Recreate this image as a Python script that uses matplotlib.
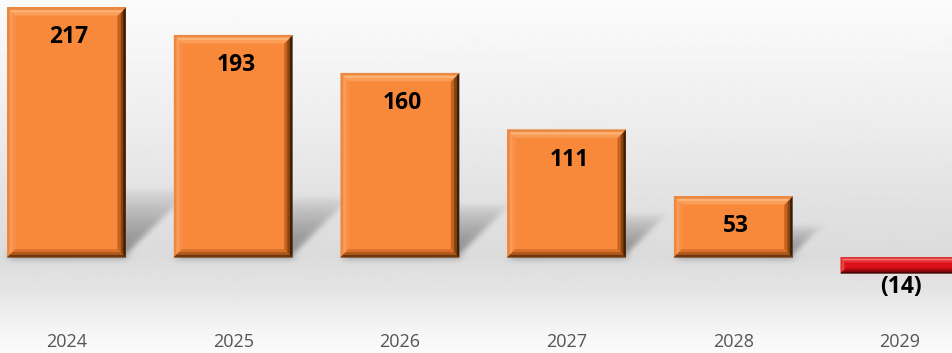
import numpy as np
import matplotlib
matplotlib.use("Agg")
import matplotlib.pyplot as plt
from matplotlib.patches import Polygon
from matplotlib.collections import PatchCollection

years = ["2024", "2025", "2026", "2027", "2028", "2029"]
values = [217, 193, 160, 111, 53, -14]
value_labels = ["217", "193", "160", "111", "53", "(14)"]

FONT = ["Open Sans", "DejaVu Sans"]

# face colour and bevel ramps (outer edge -> inner edge) for each bar tone
ORANGE = {
    "face": "#f8893b",
    "top": ["#ea8a42", "#fcb274", "#fa9d56"],
    "left": ["#ee8840", "#fb9d58", "#f9904a"],
    "right": ["#3e1e06", "#86440f", "#c8631e"],
    "bottom": ["#6e360c", "#ad5618", "#d7702b"],
}
RED = {
    "face": "#dc1018",
    "top": ["#e23a3a", "#f47070", "#e83232"],
    "left": ["#e02a2a", "#ec4a4a", "#e01c22"],
    "right": ["#4a0303", "#840808", "#b40d12"],
    "bottom": ["#4a0303", "#7e0808", "#ae0d12"],
}

W, H, DPI = 952, 353, 100
fig = plt.figure(figsize=(W / DPI, H / DPI), dpi=DPI)

# soft vertical grey gradient behind the plot
bg = fig.add_axes([0, 0, 1, 1])
bg.set_axis_off()
stops_y = [0, 120, 200, 255, 290, 330, 353]
stops_v = [0.985, 0.93, 0.885, 0.86, 0.895, 0.96, 0.985]
rows = np.interp(np.arange(H), stops_y, stops_v)
bg.imshow(np.repeat(rows[:, None], 2, axis=1), cmap="gray", vmin=0, vmax=1,
          aspect="auto", extent=[0, 1, 0, 1], interpolation="bilinear")
bg.set_xlim(0, 1)
bg.set_ylim(0, 1)

ax = fig.add_axes([0, 48 / H, 1, 305 / H])
ax.patch.set_visible(False)
for s in ax.spines.values():
    s.set_visible(False)
ax.set_xlim(-0.399, 5.312)
ax.set_ylim(-41.4, 223.5)

x = np.arange(len(years))
ax.set_xticks(x, years)
ax.set_yticks([])
ax.tick_params(axis="x", length=0, pad=20, labelsize=13, labelcolor="#555555")
for t in ax.get_xticklabels():
    t.set_family(FONT)

bars = ax.bar(x, values, width=0.71,
              color=[ORANGE["face"] if v >= 0 else RED["face"] for v in values],
              edgecolor="none", zorder=3)

# pixel size of one data unit
o = ax.transData.transform((0, 0))
px_x = ax.transData.transform((1, 0))[0] - o[0]
px_y = ax.transData.transform((0, 1))[1] - o[1]


def gaussian_blur(sigma):
    def _filter(im, dpi):
        pad = int(3 * sigma) + 1
        a = np.pad(im, ((pad, pad), (pad, pad), (0, 0)))
        r = np.arange(-pad, pad + 1)
        k = np.exp(-r ** 2 / (2 * sigma ** 2))
        k /= k.sum()
        for axis in (0, 1):
            out = np.zeros_like(a)
            for off, w in zip(r, k):
                out += w * np.roll(a, off, axis=axis)
            a = out
        return a, -pad, -pad
    return _filter


# diagonal perspective shadows cast behind the bars
shadow_polys = []
for rect, v in zip(bars, values):
    if v <= 0:
        continue
    x0, x1 = rect.get_x(), rect.get_x() + rect.get_width()
    hpx = v * px_y
    hs = 22 + 0.17 * hpx
    for frac in (1.0, 0.8, 0.6, 0.4, 0.2):
        dy = hs * frac / px_y
        dx = hs * frac / px_x
        shadow_polys.append(Polygon([(x0, 0), (x1, 0), (x1 + dx, dy), (x0 + dx, dy)]))
shadows = PatchCollection(shadow_polys, facecolor="#3c3c3c", edgecolor="none",
                          alpha=0.13, zorder=2)
shadows.set_agg_filter(gaussian_blur(3.5))
shadows.set_rasterized(True)
ax.add_collection(shadows)


def band(x0, x1, y0, y1, t0, t1, side):
    """Trapezoid of the bevel between insets t0 and t1 (fractions of bevel size)."""
    bx0, bx1 = t0 * bx, t1 * bx
    by0, by1 = t0 * by, t1 * by
    if side == "top":
        return [(x0 + bx0, y1 - by0), (x1 - bx0, y1 - by0), (x1 - bx1, y1 - by1), (x0 + bx1, y1 - by1)]
    if side == "bottom":
        return [(x0 + bx0, y0 + by0), (x1 - bx0, y0 + by0), (x1 - bx1, y0 + by1), (x0 + bx1, y0 + by1)]
    if side == "left":
        return [(x0 + bx0, y0 + by0), (x0 + bx0, y1 - by0), (x0 + bx1, y1 - by1), (x0 + bx1, y0 + by1)]
    return [(x1 - bx0, y0 + by0), (x1 - bx0, y1 - by0), (x1 - bx1, y1 - by1), (x1 - bx1, y0 + by1)]


for rect, v in zip(bars, values):
    x0, x1 = rect.get_x(), rect.get_x() + rect.get_width()
    y0, y1 = sorted((rect.get_y(), rect.get_y() + rect.get_height()))
    pal = ORANGE if v >= 0 else RED
    bev_px = 8 if v >= 0 else 5
    bx, by = bev_px / px_x, bev_px / px_y
    for side in ("left", "right", "top", "bottom"):
        cols = pal[side]
        n = len(cols)
        for i, c in enumerate(cols):
            poly = Polygon(band(x0, x1, y0, y1, i / n, (i + 1) / n, side),
                           closed=True, facecolor=c, edgecolor=c, lw=0.3, zorder=4)
            ax.add_patch(poly)

# value labels just inside the bar end (below the bar for negatives)
for rect, v, lbl in zip(bars, values, value_labels):
    cx = rect.get_x() + rect.get_width() / 2
    if v >= 0:
        ax.annotate(lbl, xy=(cx, v), xytext=(2, -21.6), textcoords="offset points",
                    ha="center", va="center", fontsize=16.5, fontweight="bold",
                    family=FONT, color="black", zorder=6)
    else:
        ax.annotate(lbl, xy=(cx, v), xytext=(1, -10), textcoords="offset points",
                    ha="center", va="center", fontsize=16.5, fontweight="bold",
                    family=FONT, color="black", zorder=6)

fig.savefig("out.png", dpi=DPI)
